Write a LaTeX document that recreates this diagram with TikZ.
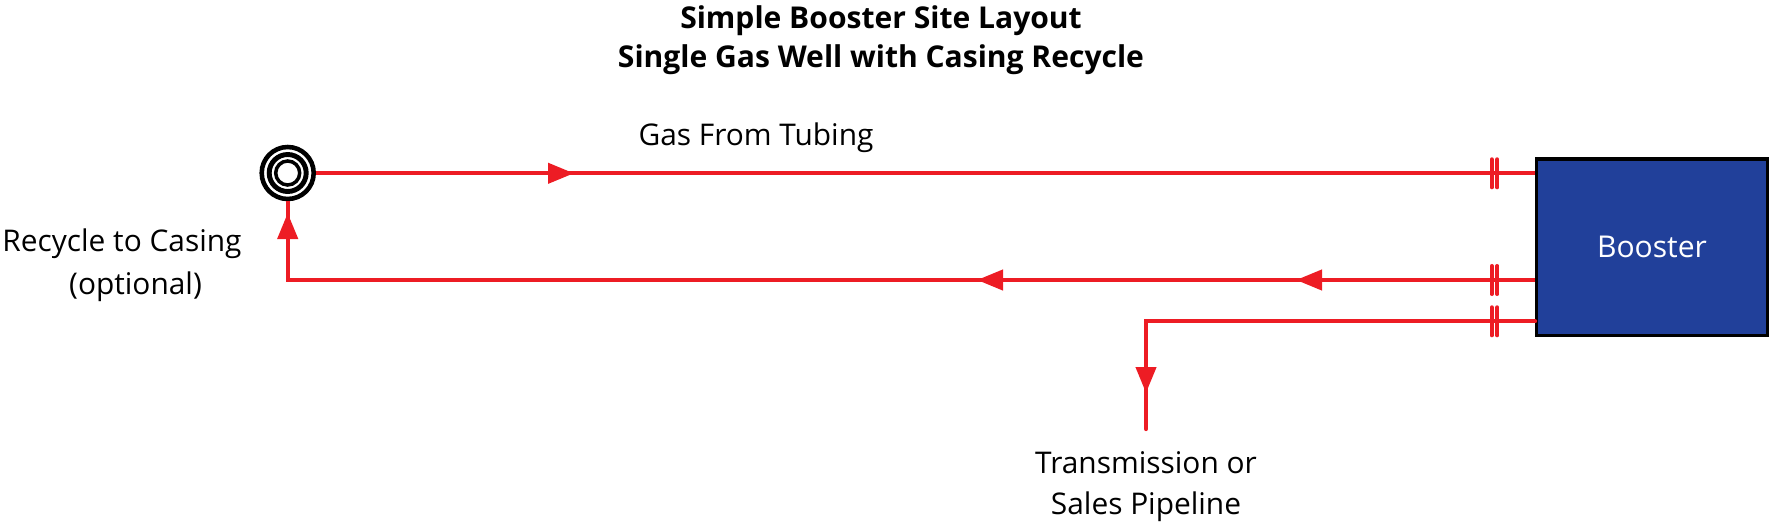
\documentclass[tikz,border=0pt]{standalone}
\usepackage{fontspec}
\setmainfont{Open Sans}
\usetikzlibrary{arrows.meta}
\definecolor{pipered}{RGB}{237,28,36}
\definecolor{boosterblue}{RGB}{33,64,154}
\tikzset{
  pipe/.style={draw=pipered,line width=1.2pt},
  flow/.style={pipe,-{Triangle[length=2.6mm,width=2mm,color=pipered]}},
  flangebar/.style={draw=pipered,line width=1.15pt,line cap=round},
  ring/.style={circle,draw=black,inner sep=0pt},
  label/.style={font=\fontsize{8.5}{11.6}\selectfont,align=center,inner sep=0pt},
}
\begin{document}
\begin{tikzpicture}
  \useasboundingbox (0,0) rectangle (17.7,5.22);
  \node[label,font=\fontsize{8.55}{11.2}\selectfont\bfseries](title)at(8.81,4.82){Simple Booster Site Layout\\Single Gas Well with Casing Recycle};
  \node[label](tubing)at(7.56,3.84){Gas From Tubing};
  \node[label](recycle)at(1.22,2.564){Recycle to Casing\\[.6pt]\hspace*{.27cm}(optional)};
  \node[label](sales)at(11.46,0.35){Transmission or\\Sales Pipeline};
  % well head
  \node[ring,line width=1.3pt,minimum size=.52cm](well)at(2.877,3.49){};
  \node[ring,line width=1.4pt,minimum size=.37cm](wellmid)at(2.877,3.49){};
  \node[ring,line width=1pt,minimum size=.24cm](wellin)at(2.877,3.49){};
  \node[rectangle,draw=black,fill=boosterblue,line width=.95pt,minimum width=2.306cm,minimum height=1.765cm,inner sep=0pt,
        text=white,font=\fontsize{8.55}{10}\selectfont](booster)at(16.52,2.747){Booster};
  % points along the pipes
  \coordinate (tipa) at (5.74,3.487);
  \coordinate (tipb) at (12.96,2.42);
  \coordinate (tipc) at (9.77,2.42);
  \coordinate (cnra) at (2.877,2.42);
  \coordinate (tipd) at (2.877,3.09);
  \coordinate (cnrb) at (11.46,2.007);
  \coordinate (tipe) at (11.46,1.29);
  \coordinate (enda) at (11.46,0.93);
  \draw[pipe] (well.east|-tipa)--(booster.west|-tipa);
  \draw[flow] (well.east|-tipa)--(tipa);
  \draw[pipe] (booster.west|-tipb)--(cnra)--(well.south);
  \draw[flow] (booster.west|-tipb)--(tipb);
  \draw[flow] (tipb)--(tipc);
  \draw[flow] (cnra)--(tipd);
  \draw[pipe,line cap=round] (booster.west|-cnrb)--(cnrb)--(enda);
  \draw[flow] (cnrb)--(tipe);
  % flanges
  \foreach \y in {3.487,2.42,2.007}{
    \draw[flangebar,shift={(14.917,\y)}] (0,.14)--(0,-.14);
    \draw[flangebar,shift={(14.973,\y)}] (0,.14)--(0,-.14);
  }
\end{tikzpicture}
\end{document}
